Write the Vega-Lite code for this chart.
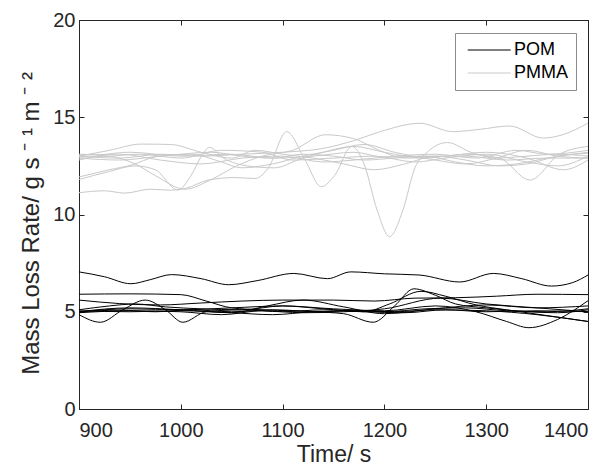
{
"$schema":"https://vega.github.io/schema/vega-lite/v6.json",
"width":509,"height":389,
"autosize":{"type":"none"},
"padding":{"left":79,"top":20,"right":25,"bottom":62},
"background":"white",
"config":{"view":{"stroke":"#262626","strokeWidth":1},"font":"Liberation Sans",
 "axis":{"labelFont":"Liberation Sans","labelFontSize":20,"labelColor":"#262626","titleFont":"Liberation Sans","titleFontSize":23,"titleFontWeight":"normal","titleColor":"#262626","domainColor":"#262626","tickColor":"#262626","tickSize":-5,"grid":false,"format":"d"}},
"datasets":{"d":[
{"m":"PMMA","r":"M1","t":900,"v":11.12},{"m":"PMMA","r":"M1","t":925,"v":11.22},{"m":"PMMA","r":"M1","t":945,"v":11.1},{"m":"PMMA","r":"M1","t":970,"v":11.3},{"m":"PMMA","r":"M1","t":990,"v":11.25},{"m":"PMMA","r":"M1","t":1005,"v":11.35},{"m":"PMMA","r":"M1","t":1027,"v":11.77},{"m":"PMMA","r":"M1","t":1053,"v":11.9},{"m":"PMMA","r":"M1","t":1073,"v":11.85},{"m":"PMMA","r":"M1","t":1086,"v":12.4},{"m":"PMMA","r":"M1","t":1104,"v":14.26},{"m":"PMMA","r":"M1","t":1122,"v":12.8},{"m":"PMMA","r":"M1","t":1138,"v":11.43},{"m":"PMMA","r":"M1","t":1151,"v":12.0},{"m":"PMMA","r":"M1","t":1168,"v":13.5},{"m":"PMMA","r":"M1","t":1180,"v":12.6},{"m":"PMMA","r":"M1","t":1193,"v":10.2},{"m":"PMMA","r":"M1","t":1205,"v":8.86},{"m":"PMMA","r":"M1","t":1218,"v":10.2},{"m":"PMMA","r":"M1","t":1230,"v":12.4},{"m":"PMMA","r":"M1","t":1242,"v":13.2},{"m":"PMMA","r":"M1","t":1262,"v":13.7},{"m":"PMMA","r":"M1","t":1285,"v":13.2},{"m":"PMMA","r":"M1","t":1310,"v":12.9},{"m":"PMMA","r":"M1","t":1340,"v":13.0},{"m":"PMMA","r":"M1","t":1370,"v":13.1},{"m":"PMMA","r":"M1","t":1400,"v":13.0},
{"m":"PMMA","r":"M2","t":900,"v":13.0},{"m":"PMMA","r":"M2","t":940,"v":12.9},{"m":"PMMA","r":"M2","t":980,"v":13.1},{"m":"PMMA","r":"M2","t":1020,"v":13.0},{"m":"PMMA","r":"M2","t":1060,"v":13.1},{"m":"PMMA","r":"M2","t":1100,"v":13.2},{"m":"PMMA","r":"M2","t":1140,"v":13.4},{"m":"PMMA","r":"M2","t":1170,"v":13.8},{"m":"PMMA","r":"M2","t":1196,"v":14.26},{"m":"PMMA","r":"M2","t":1235,"v":14.69},{"m":"PMMA","r":"M2","t":1267,"v":14.26},{"m":"PMMA","r":"M2","t":1294,"v":14.38},{"m":"PMMA","r":"M2","t":1323,"v":14.55},{"m":"PMMA","r":"M2","t":1356,"v":13.93},{"m":"PMMA","r":"M2","t":1375,"v":14.1},{"m":"PMMA","r":"M2","t":1400,"v":14.7},
{"m":"PMMA","r":"M3","t":900,"v":11.93},{"m":"PMMA","r":"M3","t":929,"v":12.29},{"m":"PMMA","r":"M3","t":952,"v":12.55},{"m":"PMMA","r":"M3","t":975,"v":12.97},{"m":"PMMA","r":"M3","t":1000,"v":13.1},{"m":"PMMA","r":"M3","t":1030,"v":13.2},{"m":"PMMA","r":"M3","t":1060,"v":13.0},{"m":"PMMA","r":"M3","t":1090,"v":12.9},{"m":"PMMA","r":"M3","t":1120,"v":13.1},{"m":"PMMA","r":"M3","t":1150,"v":13.0},{"m":"PMMA","r":"M3","t":1180,"v":12.8},{"m":"PMMA","r":"M3","t":1210,"v":12.9},{"m":"PMMA","r":"M3","t":1240,"v":13.0},{"m":"PMMA","r":"M3","t":1270,"v":12.7},{"m":"PMMA","r":"M3","t":1300,"v":12.5},{"m":"PMMA","r":"M3","t":1330,"v":12.6},{"m":"PMMA","r":"M3","t":1360,"v":12.9},{"m":"PMMA","r":"M3","t":1400,"v":13.2},
{"m":"PMMA","r":"M4","t":900,"v":11.8},{"m":"PMMA","r":"M4","t":929,"v":12.2},{"m":"PMMA","r":"M4","t":955,"v":12.5},{"m":"PMMA","r":"M4","t":975,"v":12.3},{"m":"PMMA","r":"M4","t":997,"v":11.26},{"m":"PMMA","r":"M4","t":1010,"v":12.0},{"m":"PMMA","r":"M4","t":1020,"v":12.97},{"m":"PMMA","r":"M4","t":1028,"v":13.45},{"m":"PMMA","r":"M4","t":1042,"v":12.9},{"m":"PMMA","r":"M4","t":1065,"v":12.5},{"m":"PMMA","r":"M4","t":1092,"v":12.4},{"m":"PMMA","r":"M4","t":1115,"v":12.8},{"m":"PMMA","r":"M4","t":1140,"v":13.2},{"m":"PMMA","r":"M4","t":1170,"v":13.5},{"m":"PMMA","r":"M4","t":1200,"v":13.2},{"m":"PMMA","r":"M4","t":1240,"v":12.9},{"m":"PMMA","r":"M4","t":1280,"v":13.1},{"m":"PMMA","r":"M4","t":1313,"v":12.9},{"m":"PMMA","r":"M4","t":1343,"v":11.77},{"m":"PMMA","r":"M4","t":1372,"v":13.1},{"m":"PMMA","r":"M4","t":1400,"v":13.5},
{"m":"PMMA","r":"M5","t":900,"v":13.1},{"m":"PMMA","r":"M5","t":930,"v":13.0},{"m":"PMMA","r":"M5","t":955,"v":12.6},{"m":"PMMA","r":"M5","t":975,"v":12.0},{"m":"PMMA","r":"M5","t":1004,"v":11.3},{"m":"PMMA","r":"M5","t":1030,"v":11.8},{"m":"PMMA","r":"M5","t":1055,"v":12.5},{"m":"PMMA","r":"M5","t":1080,"v":13.0},{"m":"PMMA","r":"M5","t":1110,"v":13.3},{"m":"PMMA","r":"M5","t":1142,"v":14.1},{"m":"PMMA","r":"M5","t":1170,"v":13.9},{"m":"PMMA","r":"M5","t":1195,"v":13.3},{"m":"PMMA","r":"M5","t":1220,"v":12.9},{"m":"PMMA","r":"M5","t":1260,"v":13.0},{"m":"PMMA","r":"M5","t":1300,"v":13.2},{"m":"PMMA","r":"M5","t":1340,"v":12.9},{"m":"PMMA","r":"M5","t":1376,"v":12.3},{"m":"PMMA","r":"M5","t":1400,"v":12.8},
{"m":"PMMA","r":"M6","t":900,"v":13.0},{"m":"PMMA","r":"M6","t":930,"v":13.3},{"m":"PMMA","r":"M6","t":961,"v":13.62},{"m":"PMMA","r":"M6","t":990,"v":13.6},{"m":"PMMA","r":"M6","t":1020,"v":13.2},{"m":"PMMA","r":"M6","t":1050,"v":12.9},{"m":"PMMA","r":"M6","t":1073,"v":13.3},{"m":"PMMA","r":"M6","t":1100,"v":13.1},{"m":"PMMA","r":"M6","t":1130,"v":12.9},{"m":"PMMA","r":"M6","t":1160,"v":12.6},{"m":"PMMA","r":"M6","t":1190,"v":12.3},{"m":"PMMA","r":"M6","t":1220,"v":12.6},{"m":"PMMA","r":"M6","t":1250,"v":13.0},{"m":"PMMA","r":"M6","t":1280,"v":12.8},{"m":"PMMA","r":"M6","t":1313,"v":12.5},{"m":"PMMA","r":"M6","t":1340,"v":12.6},{"m":"PMMA","r":"M6","t":1370,"v":13.0},{"m":"PMMA","r":"M6","t":1400,"v":13.15},
{"m":"PMMA","r":"M7","t":900,"v":12.9},{"m":"PMMA","r":"M7","t":940,"v":12.8},{"m":"PMMA","r":"M7","t":980,"v":13.0},{"m":"PMMA","r":"M7","t":1010,"v":13.1},{"m":"PMMA","r":"M7","t":1040,"v":12.7},{"m":"PMMA","r":"M7","t":1060,"v":12.4},{"m":"PMMA","r":"M7","t":1090,"v":12.6},{"m":"PMMA","r":"M7","t":1120,"v":13.0},{"m":"PMMA","r":"M7","t":1150,"v":13.3},{"m":"PMMA","r":"M7","t":1180,"v":13.6},{"m":"PMMA","r":"M7","t":1210,"v":13.2},{"m":"PMMA","r":"M7","t":1250,"v":12.8},{"m":"PMMA","r":"M7","t":1280,"v":12.6},{"m":"PMMA","r":"M7","t":1310,"v":12.9},{"m":"PMMA","r":"M7","t":1340,"v":13.3},{"m":"PMMA","r":"M7","t":1370,"v":13.0},{"m":"PMMA","r":"M7","t":1400,"v":12.9},
{"m":"PMMA","r":"M8","t":900,"v":12.95},{"m":"PMMA","r":"M8","t":930,"v":13.0},{"m":"PMMA","r":"M8","t":960,"v":13.1},{"m":"PMMA","r":"M8","t":1000,"v":12.9},{"m":"PMMA","r":"M8","t":1040,"v":13.3},{"m":"PMMA","r":"M8","t":1080,"v":13.2},{"m":"PMMA","r":"M8","t":1110,"v":12.8},{"m":"PMMA","r":"M8","t":1150,"v":12.9},{"m":"PMMA","r":"M8","t":1190,"v":13.0},{"m":"PMMA","r":"M8","t":1230,"v":12.7},{"m":"PMMA","r":"M8","t":1260,"v":12.9},{"m":"PMMA","r":"M8","t":1300,"v":13.1},{"m":"PMMA","r":"M8","t":1340,"v":12.7},{"m":"PMMA","r":"M8","t":1370,"v":12.5},{"m":"PMMA","r":"M8","t":1400,"v":13.0},
{"m":"PMMA","r":"M9","t":900,"v":13.05},{"m":"PMMA","r":"M9","t":940,"v":13.1},{"m":"PMMA","r":"M9","t":980,"v":12.8},{"m":"PMMA","r":"M9","t":1020,"v":12.6},{"m":"PMMA","r":"M9","t":1060,"v":12.9},{"m":"PMMA","r":"M9","t":1100,"v":13.0},{"m":"PMMA","r":"M9","t":1140,"v":12.7},{"m":"PMMA","r":"M9","t":1170,"v":12.8},{"m":"PMMA","r":"M9","t":1210,"v":13.0},{"m":"PMMA","r":"M9","t":1250,"v":13.1},{"m":"PMMA","r":"M9","t":1290,"v":12.9},{"m":"PMMA","r":"M9","t":1330,"v":13.3},{"m":"PMMA","r":"M9","t":1360,"v":13.1},{"m":"PMMA","r":"M9","t":1400,"v":13.3},
{"m":"PMMA","r":"M10","t":900,"v":12.8},{"m":"PMMA","r":"M10","t":950,"v":13.2},{"m":"PMMA","r":"M10","t":1000,"v":13.0},{"m":"PMMA","r":"M10","t":1050,"v":13.1},{"m":"PMMA","r":"M10","t":1090,"v":12.9},{"m":"PMMA","r":"M10","t":1130,"v":13.0},{"m":"PMMA","r":"M10","t":1170,"v":13.2},{"m":"PMMA","r":"M10","t":1200,"v":12.95},{"m":"PMMA","r":"M10","t":1240,"v":13.0},{"m":"PMMA","r":"M10","t":1280,"v":13.0},{"m":"PMMA","r":"M10","t":1320,"v":12.8},{"m":"PMMA","r":"M10","t":1360,"v":12.9},{"m":"PMMA","r":"M10","t":1400,"v":12.9},
{"m":"POM","r":"P1","t":900,"v":7.05},{"m":"POM","r":"P1","t":925,"v":6.8},{"m":"POM","r":"P1","t":951,"v":6.44},{"m":"POM","r":"P1","t":970,"v":6.65},{"m":"POM","r":"P1","t":991,"v":6.91},{"m":"POM","r":"P1","t":1020,"v":6.7},{"m":"POM","r":"P1","t":1047,"v":6.39},{"m":"POM","r":"P1","t":1075,"v":6.6},{"m":"POM","r":"P1","t":1111,"v":6.97},{"m":"POM","r":"P1","t":1144,"v":6.7},{"m":"POM","r":"P1","t":1167,"v":7.05},{"m":"POM","r":"P1","t":1200,"v":6.95},{"m":"POM","r":"P1","t":1234,"v":6.89},{"m":"POM","r":"P1","t":1274,"v":6.53},{"m":"POM","r":"P1","t":1307,"v":6.97},{"m":"POM","r":"P1","t":1335,"v":6.7},{"m":"POM","r":"P1","t":1364,"v":6.32},{"m":"POM","r":"P1","t":1385,"v":6.5},{"m":"POM","r":"P1","t":1400,"v":6.89},
{"m":"POM","r":"P2","t":900,"v":5.9},{"m":"POM","r":"P2","t":950,"v":5.92},{"m":"POM","r":"P2","t":1000,"v":5.88},{"m":"POM","r":"P2","t":1025,"v":5.55},{"m":"POM","r":"P2","t":1050,"v":5.2},{"m":"POM","r":"P2","t":1080,"v":5.1},{"m":"POM","r":"P2","t":1110,"v":5.05},{"m":"POM","r":"P2","t":1140,"v":5.0},{"m":"POM","r":"P2","t":1170,"v":5.08},{"m":"POM","r":"P2","t":1200,"v":5.0},{"m":"POM","r":"P2","t":1240,"v":5.15},{"m":"POM","r":"P2","t":1280,"v":5.2},{"m":"POM","r":"P2","t":1320,"v":5.05},{"m":"POM","r":"P2","t":1360,"v":5.0},{"m":"POM","r":"P2","t":1400,"v":5.15},
{"m":"POM","r":"P3","t":900,"v":5.6},{"m":"POM","r":"P3","t":940,"v":5.42},{"m":"POM","r":"P3","t":980,"v":5.35},{"m":"POM","r":"P3","t":1020,"v":5.45},{"m":"POM","r":"P3","t":1060,"v":5.55},{"m":"POM","r":"P3","t":1100,"v":5.6},{"m":"POM","r":"P3","t":1150,"v":5.6},{"m":"POM","r":"P3","t":1190,"v":5.55},{"m":"POM","r":"P3","t":1230,"v":5.7},{"m":"POM","r":"P3","t":1270,"v":5.72},{"m":"POM","r":"P3","t":1310,"v":5.8},{"m":"POM","r":"P3","t":1350,"v":5.9},{"m":"POM","r":"P3","t":1400,"v":5.88},
{"m":"POM","r":"P4","t":900,"v":5.0},{"m":"POM","r":"P4","t":940,"v":5.08},{"m":"POM","r":"P4","t":975,"v":5.0},{"m":"POM","r":"P4","t":1010,"v":5.1},{"m":"POM","r":"P4","t":1050,"v":5.0},{"m":"POM","r":"P4","t":1090,"v":5.1},{"m":"POM","r":"P4","t":1130,"v":5.0},{"m":"POM","r":"P4","t":1160,"v":4.9},{"m":"POM","r":"P4","t":1189,"v":4.46},{"m":"POM","r":"P4","t":1210,"v":5.3},{"m":"POM","r":"P4","t":1229,"v":6.18},{"m":"POM","r":"P4","t":1250,"v":5.85},{"m":"POM","r":"P4","t":1270,"v":5.4},{"m":"POM","r":"P4","t":1300,"v":5.2},{"m":"POM","r":"P4","t":1340,"v":5.0},{"m":"POM","r":"P4","t":1370,"v":4.95},{"m":"POM","r":"P4","t":1400,"v":5.1},
{"m":"POM","r":"P5","t":900,"v":5.1},{"m":"POM","r":"P5","t":930,"v":5.3},{"m":"POM","r":"P5","t":955,"v":5.4},{"m":"POM","r":"P5","t":985,"v":5.25},{"m":"POM","r":"P5","t":1020,"v":5.15},{"m":"POM","r":"P5","t":1060,"v":5.1},{"m":"POM","r":"P5","t":1100,"v":5.3},{"m":"POM","r":"P5","t":1140,"v":5.15},{"m":"POM","r":"P5","t":1180,"v":5.0},{"m":"POM","r":"P5","t":1205,"v":5.4},{"m":"POM","r":"P5","t":1236,"v":6.05},{"m":"POM","r":"P5","t":1260,"v":5.8},{"m":"POM","r":"P5","t":1290,"v":5.35},{"m":"POM","r":"P5","t":1320,"v":5.1},{"m":"POM","r":"P5","t":1360,"v":4.8},{"m":"POM","r":"P5","t":1400,"v":4.5},
{"m":"POM","r":"P6","t":900,"v":4.85},{"m":"POM","r":"P6","t":921,"v":4.46},{"m":"POM","r":"P6","t":943,"v":5.1},{"m":"POM","r":"P6","t":965,"v":5.6},{"m":"POM","r":"P6","t":985,"v":5.1},{"m":"POM","r":"P6","t":1002,"v":4.46},{"m":"POM","r":"P6","t":1025,"v":5.0},{"m":"POM","r":"P6","t":1060,"v":5.1},{"m":"POM","r":"P6","t":1100,"v":5.0},{"m":"POM","r":"P6","t":1140,"v":5.1},{"m":"POM","r":"P6","t":1180,"v":5.0},{"m":"POM","r":"P6","t":1220,"v":4.95},{"m":"POM","r":"P6","t":1260,"v":5.1},{"m":"POM","r":"P6","t":1300,"v":5.0},{"m":"POM","r":"P6","t":1350,"v":5.05},{"m":"POM","r":"P6","t":1400,"v":5.0},
{"m":"POM","r":"P7","t":900,"v":5.0},{"m":"POM","r":"P7","t":950,"v":5.15},{"m":"POM","r":"P7","t":1000,"v":5.1},{"m":"POM","r":"P7","t":1050,"v":5.2},{"m":"POM","r":"P7","t":1100,"v":5.3},{"m":"POM","r":"P7","t":1150,"v":5.15},{"m":"POM","r":"P7","t":1200,"v":5.05},{"m":"POM","r":"P7","t":1250,"v":5.3},{"m":"POM","r":"P7","t":1290,"v":5.0},{"m":"POM","r":"P7","t":1320,"v":4.5},{"m":"POM","r":"P7","t":1342,"v":4.18},{"m":"POM","r":"P7","t":1370,"v":4.6},{"m":"POM","r":"P7","t":1400,"v":5.57},
{"m":"POM","r":"P8","t":900,"v":5.05},{"m":"POM","r":"P8","t":950,"v":5.0},{"m":"POM","r":"P8","t":1000,"v":5.05},{"m":"POM","r":"P8","t":1050,"v":4.95},{"m":"POM","r":"P8","t":1090,"v":4.85},{"m":"POM","r":"P8","t":1130,"v":5.0},{"m":"POM","r":"P8","t":1170,"v":5.05},{"m":"POM","r":"P8","t":1210,"v":5.0},{"m":"POM","r":"P8","t":1250,"v":5.1},{"m":"POM","r":"P8","t":1300,"v":5.05},{"m":"POM","r":"P8","t":1350,"v":4.85},{"m":"POM","r":"P8","t":1400,"v":4.5},
{"m":"POM","r":"P9","t":900,"v":5.0},{"m":"POM","r":"P9","t":950,"v":5.2},{"m":"POM","r":"P9","t":1000,"v":5.1},{"m":"POM","r":"P9","t":1050,"v":4.95},{"m":"POM","r":"P9","t":1085,"v":5.3},{"m":"POM","r":"P9","t":1120,"v":5.6},{"m":"POM","r":"P9","t":1160,"v":5.25},{"m":"POM","r":"P9","t":1200,"v":4.9},{"m":"POM","r":"P9","t":1250,"v":5.15},{"m":"POM","r":"P9","t":1300,"v":5.35},{"m":"POM","r":"P9","t":1350,"v":5.2},{"m":"POM","r":"P9","t":1400,"v":5.3},
{"m":"POM","r":"P10","t":900,"v":4.95},{"m":"POM","r":"P10","t":950,"v":5.05},{"m":"POM","r":"P10","t":1000,"v":5.0},{"m":"POM","r":"P10","t":1040,"v":4.85},{"m":"POM","r":"P10","t":1080,"v":5.05},{"m":"POM","r":"P10","t":1120,"v":4.95},{"m":"POM","r":"P10","t":1160,"v":5.0},{"m":"POM","r":"P10","t":1200,"v":5.15},{"m":"POM","r":"P10","t":1255,"v":5.7},{"m":"POM","r":"P10","t":1300,"v":5.4},{"m":"POM","r":"P10","t":1350,"v":5.2},{"m":"POM","r":"P10","t":1400,"v":5.0}
]},
"data":{"name":"d"},
"resolve":{"axis":{"x":"independent","y":"independent"}},
"layer":[
 {"transform":[{"filter":"datum.m === 'PMMA'"}],
  "mark":{"type":"line","interpolate":"monotone","strokeWidth":1},
  "encoding":{
   "x":{"field":"t","type":"quantitative","scale":{"domain":[900,1400],"nice":false,"zero":false},
        "axis":{"orient":"bottom","values":[900,1000,1100,1200,1300,1400],"title":"Time/ s","labelPadding":16,"titlePadding":3}},
   "y":{"field":"v","type":"quantitative","scale":{"domain":[0,20],"nice":false,"zero":false},
        "axis":{"orient":"left","values":[0,5,10,15,20],"title":"Mass Loss Rate/ g s ⁻ ¹ m ⁻ ²","titleFontSize":24,"labelPadding":9,"titlePadding":9,"titleY":203}},
   "color":{"field":"m","type":"nominal","scale":{"domain":["POM","PMMA"],"range":["#000000","#c9c9c9"]},
        "legend":{"orient":"none","legendX":376,"legendY":13,"title":null,"symbolType":"M-1,0H9","symbolSize":74,"symbolStrokeWidth":1,"labelFontSize":18,"labelFont":"Liberation Sans","labelColor":"#000000","labelOffset":33,"padding":8,"rowPadding":5,"strokeColor":"#8c8c8c","fillColor":"white"}},
   "detail":{"field":"r"}}},
 {"transform":[{"filter":"datum.m === 'POM'"}],
  "mark":{"type":"line","interpolate":"monotone","strokeWidth":1},
  "encoding":{
   "x":{"field":"t","type":"quantitative","scale":{"domain":[900,1400],"nice":false,"zero":false},
        "axis":{"orient":"top","values":[900,1000,1100,1200,1300,1400],"title":null,"labels":false}},
   "y":{"field":"v","type":"quantitative","scale":{"domain":[0,20],"nice":false,"zero":false},
        "axis":{"orient":"right","values":[0,5,10,15,20],"title":null,"labels":false}},
   "color":{"field":"m","type":"nominal"},
   "detail":{"field":"r"}}}
]
}
